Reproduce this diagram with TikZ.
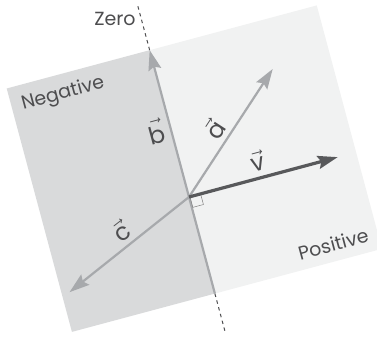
\documentclass[tikz,border=0pt]{standalone}
\usepackage{amsmath}
\usepackage{fontspec}
\setmainfont{Poppins}
\usetikzlibrary{arrows.meta}
\definecolor{negfill}{HTML}{D9DADB}
\definecolor{posfill}{HTML}{F1F2F2}
\definecolor{vecgrey}{HTML}{A7A9AC}
\definecolor{vdark}{HTML}{58595B}
\definecolor{txtgrey}{HTML}{4D4D4F}
\tikzset{
  vec/.style={line width=2.2pt, vecgrey, -{Stealth[length=20pt,width=13pt,inset=3pt]}},
  lab/.style={text=txtgrey, inner sep=0pt, font=\fontsize{19}{19}\selectfont},
  veclab/.style={lab, font=\fontsize{24}{24}\selectfont},
  zeroline/.style={line width=1pt, txtgrey, dash pattern=on 3.5pt off 3.5pt},
}
\newcommand\vlab[1]{$\vec{\text{#1}}$}

\begin{document}
\begin{tikzpicture}[x=1pt,y=1pt]
  \useasboundingbox (0,0) rectangle (377,339);
  \clip (0,0) rectangle (377,339);
  \begin{scope}[shift={(189,142)}, rotate=15]
    \coordinate (O) at (0,0);
    \coordinate (A) at (114,102);
    \coordinate (B) at (0,152);
    \coordinate (C) at (-140,-61);
    \coordinate (V) at (154,0);
    \coordinate (Zt) at (0,200);
    \coordinate (Zb) at (0,-100);
    \coordinate (Ze) at (0,-140);
    % half planes
    \fill[negfill] (-148,-100) rectangle (0,152);
    \fill[posfill] (0,-100) rectangle (173,152);
    % the zero line
    \draw[zeroline] (B) -- (Zt);
    \draw[zeroline] (Zb) -- (Ze);
    \draw[line width=2.2pt, vecgrey] (O) -- (Zb);
    % right angle
    \draw[line width=0.5pt, gray] (1,0) -- (1,-11) -- (12,-11) -- (12,0);
    % vectors
    \draw[vec] (O) -- (B);
    \draw[vec] (O) -- (A);
    \draw[vec] (O) -- (C);
    \draw[vec, line width=3.2pt, vdark] (O) -- (V);
    \node[lab, rotate=15] (neg) at (-95,132) {Negative};
    \node[lab, rotate=15] (pos) at (127,-83) {Positive};
    \node[veclab, rotate=15] (lb) at (-15,72) {\vlab{b}};
    \node[veclab, rotate=57] (la) at (42,59) {\vlab{a}};
    \node[veclab, rotate=38] (lc) at (-74,-15) {\vlab{c}};
    \node[veclab, rotate=15] (lv) at (75,17) {\vlab{v}};
  \end{scope}
  \node[lab] (zero) at (115,320) {Zero};
\end{tikzpicture}
\end{document}
